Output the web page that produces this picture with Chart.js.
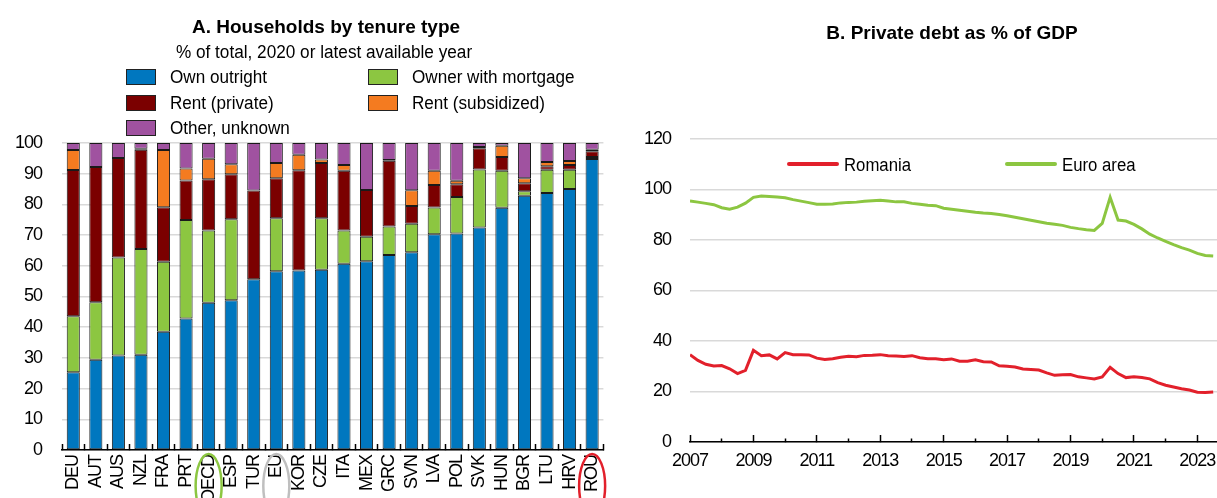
<!DOCTYPE html>
<html>
<head>
<meta charset="utf-8">
<script src="https://cdn.jsdelivr.net/npm/chart.js@4.4.1/dist/chart.umd.min.js"></script>
<style>
  body { margin: 0; background: #fff; }
  #wrap { position: relative; width: 1217px; height: 498px; overflow: hidden;
          font-family: "Liberation Sans", Arial, sans-serif; color: #000; }
  canvas { position: absolute; top: 0; }
  .title { position: absolute; font-weight: bold; font-size: 19px; white-space: nowrap; }
  .sub { position: absolute; font-size: 18px; white-space: nowrap; }
  .leg { position: absolute; font-size: 18px; white-space: nowrap; line-height: 18px; }
  .leg span.t { display: inline-block; transform: scaleX(0.95); transform-origin: left center; }
  .box { display: inline-block; width: 28px; height: 14px; border: 1px solid #222; vertical-align: -2px; margin-right: 14px; }
  .ln { display: inline-block; width: 52px; height: 4px; border-radius: 2px; vertical-align: 5px; margin-right: 5px; }
</style>
</head>
<body>
<div id="wrap">
  <canvas id="tenure" width="625" height="498" style="left:0"></canvas>
  <canvas id="debt" width="592" height="498" style="left:625px"></canvas>

  <div class="title" style="left:326px; top:16px; transform: translateX(-50%)">A. Households by tenure type</div>
  <div class="sub" style="left:324px; top:42px; transform: translateX(-50%) scaleX(0.955)">% of total, 2020 or latest available year</div>
  <div class="leg" style="left:126px; top:68px"><span class="box" style="background:#0077bf"></span><span class="t">Own outright</span></div>
  <div class="leg" style="left:368px; top:68px"><span class="box" style="background:#8cc641"></span><span class="t">Owner with mortgage</span></div>
  <div class="leg" style="left:126px; top:94px"><span class="box" style="background:#7b0000"></span><span class="t">Rent (private)</span></div>
  <div class="leg" style="left:368px; top:94px"><span class="box" style="background:#f47b20"></span><span class="t">Rent (subsidized)</span></div>
  <div class="leg" style="left:126px; top:119px"><span class="box" style="background:#a052a0"></span><span class="t">Other, unknown</span></div>

  <div class="title" style="left:952px; top:22px; transform: translateX(-50%)">B. Private debt as % of GDP</div>
  <div class="leg" style="left:787px; top:156px"><span class="ln" style="background:#e2202b"></span><span class="t" style="transform: scaleX(0.93)">Romania</span></div>
  <div class="leg" style="left:1005px; top:156px"><span class="ln" style="background:#8cc641"></span><span class="t" style="transform: scaleX(0.93)">Euro area</span></div>
</div>

<script>
// Panel A: households by tenure type, % of total
const countries = ['DEU', 'AUT', 'AUS', 'NZL', 'FRA', 'PRT', 'OECD', 'ESP', 'TUR', 'EU', 'KOR', 'CZE',
                   'ITA', 'MEX', 'GRC', 'SVN', 'LVA', 'POL', 'SVK', 'HUN', 'BGR', 'LTU', 'HRV', 'ROU'];
const ownOutright    = [25.3, 29.4, 30.8, 31.0, 38.5, 42.8, 48.0, 48.8, 55.6, 58.2, 58.5, 58.7,
                        60.7, 61.5, 63.5, 64.4, 70.3, 70.5, 72.5, 78.9, 82.8, 83.7, 85.0, 94.8];
const ownerMortgage  = [18.3, 18.7, 31.9, 34.5, 22.8, 32.1, 23.5, 26.4, null, 17.3, null, 16.8,
                        10.8, 8.0, 9.3, 9.3, 8.7, 11.9, 18.9, 12.1, 1.5, 7.6, 6.3, 0.6];
const rentPrivate    = [47.6, 44.1, 32.4, 32.3, 17.8, 12.9, 16.7, 14.6, 28.9, 13.0, 32.6, 18.0,
                        19.5, 15.2, 21.4, 5.8, 7.3, 4.2, 6.9, 4.4, 2.6, 1.1, 1.5, 1.9];
const rentSubsidized = [6.5, null, null, 0.3, 18.6, 3.9, 6.7, 3.3, null, 5.0, 5.1, 1.1,
                        1.8, null, 0.3, 5.1, 4.7, 1.1, 0.4, 3.7, 1.6, 1.4, 1.3, 0.5];
const otherUnknown   = [2.3, 7.8, 4.9, 1.9, 2.3, 8.3, 5.1, 6.9, 15.5, 6.5, 3.8, 5.4,
                        7.2, 15.3, 5.5, 15.4, 9.0, 12.3, 1.3, 0.9, 11.5, 6.2, 5.9, 2.2];
const highlighted = { OECD: '#8cc641', EU: '#bfbfbf', ROU: '#e2202b' };

// Panel B: private debt, % of GDP, quarterly from 2007Q1
const firstYear = 2007;
const romania = [34.6, 32.3, 30.8, 30.1,  30.3, 29.0, 27.1, 28.4,  36.3, 34.2, 34.5, 32.9,
                 35.4, 34.6, 34.6, 34.5,  33.2, 32.7, 33.0, 33.6,  34.0, 33.8, 34.3, 34.4,
                 34.6, 34.2, 34.1, 33.9,  34.2, 33.4, 33.0, 33.0,  32.6, 32.9, 32.0, 32.0,
                 32.6, 31.8, 31.7, 30.2,  30.0, 29.7, 28.9, 28.7,  28.5, 27.4, 26.4, 26.6,
                 26.7, 25.8, 25.4, 25.0,  25.8, 29.6, 27.1, 25.5,  25.8, 25.5, 25.0, 23.5,
                 22.5, 21.8, 21.1, 20.6,  19.7, 19.6, 19.8];
const euroArea = [95.5, 95.0, 94.5, 94.0,  92.8, 92.2, 93.0, 94.6,  96.9, 97.4, 97.2, 97.0,
                  96.7, 96.0, 95.4, 94.8,  94.2, 94.2, 94.3, 94.7,  94.9, 95.0, 95.3, 95.5,
                  95.7, 95.4, 95.1, 95.1,  94.5, 94.2, 93.8, 93.6,  92.6, 92.2, 91.8, 91.4,
                  91.0, 90.7, 90.5, 90.1,  89.6, 89.0, 88.4, 87.8,  87.2, 86.6, 86.2, 85.8,
                  85.0, 84.5, 84.1, 83.8,  86.6, 96.9, 87.9, 87.5,  86.2, 84.4, 82.3, 80.8,
                  79.5, 78.2, 77.0, 76.0,  74.7, 73.9, 73.7];
const tenureTicks = [0, 10, 20, 30, 40, 50, 60, 70, 80, 90, 100];
const debtTicks = [0, 20, 40, 60, 80, 100, 120];

Chart.defaults.font.family = '"Liberation Sans", Arial, sans-serif';
Chart.defaults.font.size = 18;
Chart.defaults.color = '#000';

const gridGrey = '#d9d9d9';

// tighter letters, closer to the narrow face of the original
const narrowText = {
    id: 'narrowText',
    beforeLayout(chart) { chart.ctx.letterSpacing = '-1px'; },
    beforeDraw(chart) { chart.ctx.letterSpacing = '-1px'; }
};

// circles round the highlighted country codes
const circleLabels = {
    id: 'circleLabels',
    afterDraw(chart) {
        const x = chart.scales.x;
        const ctx = chart.ctx;
        ctx.save();
        ctx.lineWidth = 2.5;
        countries.forEach((c, i) => {
            if (!highlighted[c]) return;
            ctx.strokeStyle = highlighted[c];
            ctx.beginPath();
            ctx.ellipse(x.getPixelForValue(i), x.top + 36, 13, 32, 0, 0, Math.PI * 2);
            ctx.stroke();
        });
        ctx.restore();
    }
};

function series(values) {
    return values.map((v, i) => ({ x: firstYear + i / 4, y: v }));
}

function barSet(label, data, color) {
    return { label, data, backgroundColor: color, borderColor: '#1a1a1a', borderWidth: 1,
             borderSkipped: false, categoryPercentage: 1, barPercentage: 0.58 };
}

new Chart(document.getElementById('tenure'), {
    type: 'bar',
    data: {
        labels: countries,
        datasets: [
            barSet('Own outright', ownOutright, '#0077bf'),
            barSet('Owner with mortgage', ownerMortgage, '#8cc641'),
            barSet('Rent (private)', rentPrivate, '#7b0000'),
            barSet('Rent (subsidized)', rentSubsidized, '#f47b20'),
            barSet('Other, unknown', otherUnknown, '#a052a0')
        ]
    },
    options: {
        responsive: false,
        animation: false,
        layout: { padding: { top: 143, right: 13, left: 0, bottom: 0 } },
        plugins: { legend: { display: false }, tooltip: { enabled: false } },
        scales: {
            x: {
                stacked: true,
                afterFit: s => { s.height = 48; },
                grid: { offset: true, drawOnChartArea: false, tickLength: -6, color: '#000', tickWidth: 1.5 },
                border: { color: '#000', width: 1.5 },
                ticks: { autoSkip: false, maxRotation: 90, minRotation: 90, padding: 11 }
            },
            y: {
                stacked: true,
                min: 0, max: 100,
                afterFit: s => { s.width = 62; },
                afterBuildTicks: s => { s.ticks = tenureTicks.map(v => ({ value: v })); },
                grid: { color: gridGrey, lineWidth: 1.5, drawTicks: false },
                border: { display: false },
                ticks: { padding: 20 }
            }
        }
    },
    plugins: [narrowText, circleLabels]
});

new Chart(document.getElementById('debt'), {
    type: 'line',
    data: {
        datasets: [
            { label: 'Romania', data: series(romania), borderColor: '#e2202b', borderWidth: 3, pointRadius: 0 },
            { label: 'Euro area', data: series(euroArea), borderColor: '#8cc641', borderWidth: 3, pointRadius: 0 }
        ]
    },
    options: {
        responsive: false,
        animation: false,
        layout: { padding: { top: 139, right: 0, left: 0, bottom: 0 } },
        plugins: { legend: { display: false }, tooltip: { enabled: false } },
        scales: {
            x: {
                type: 'linear',
                min: 2007, max: 2023.62,
                afterFit: s => { s.height = 56; s.paddingLeft = 0; s.paddingRight = 0; },
                grid: {
                    drawOnChartArea: false, tickLength: -7, color: '#000', tickWidth: 1.5,
                    tickBorderDash: ctx => (ctx.tick && ctx.tick.value % 2 === 0 ? [4, 40] : [])
                },
                border: { color: '#000', width: 1.5 },
                ticks: {
                    stepSize: 1, includeBounds: false, maxRotation: 0, autoSkip: false, padding: 15,
                    callback: v => (v % 2 === 1 ? String(v) : '')
                }
            },
            y: {
                min: 0, max: 120,
                afterFit: s => { s.width = 65; },
                afterBuildTicks: s => { s.ticks = debtTicks.map(v => ({ value: v })); },
                grid: { color: gridGrey, lineWidth: 1.5, drawTicks: false },
                border: { display: false },
                ticks: { padding: 19 }
            }
        }
    },
    plugins: [narrowText]
});
</script>
</body>
</html>
